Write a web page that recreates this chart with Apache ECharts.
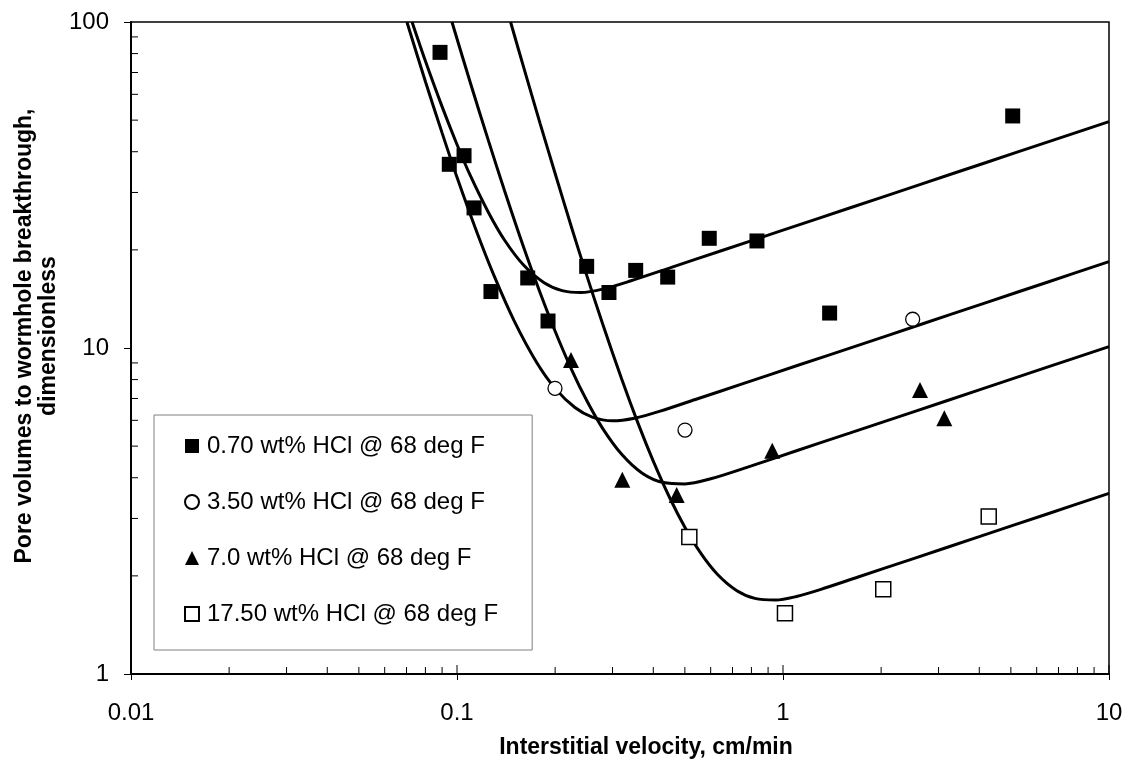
<!DOCTYPE html>
<html>
<head>
<meta charset="utf-8">
<script src="https://cdn.jsdelivr.net/npm/echarts@6/dist/echarts.min.js"></script>
<style>
  html, body { margin: 0; padding: 0; background: #fff; }
  #chart { width: 1131px; height: 765px; }
</style>
</head>
<body>
<div id="chart"></div>
<script>
// Measured points: [interstitial velocity (cm/min), pore volumes to breakthrough]
const pts070 = [[0.0887,80.7],[0.0947,36.6],[0.1051,38.9],[0.1128,26.9],[0.1271,14.9],[0.1648,16.4],[0.1902,12.1],[0.2499,17.8],[0.2925,14.8],[0.3533,17.3],[0.4429,16.5],[0.594,21.7],[0.832,21.3],[1.39,12.8],[5.065,51.5]];
const pts350 = [[0.1998,7.52],[0.5005,5.60],[2.499,12.25]];
const pts700 = [[0.2237,9.19],[0.3214,3.94],[0.472,3.54],[0.927,4.84],[2.632,7.43],[3.125,6.09]];
const pts1750 = [[0.516,2.63],[1.014,1.535],[2.03,1.82],[4.276,3.04]];

// Fitted model curves, one per acid concentration
const fit070 = [[0.0728,100],[0.08,75.9],[0.09,55.0],[0.1,42.1],[0.11,33.7],[0.125,26.0],[0.14,21.4],[0.16,17.96],[0.185,15.85],[0.21,15.0],[0.24,14.8],[0.28,15.16],[0.34,16.05],[0.45,17.61],[0.65,19.91],[1,22.98],[1.6,26.88],[2.6,31.6],[4.2,37.08],[6.5,42.89],[10,49.5]];
const fit350 = [[0.0702,100],[0.08,65.7],[0.09,45.7],[0.1,33.4],[0.115,22.7],[0.13,16.64],[0.15,12.07],[0.175,9.08],[0.2,7.52],[0.23,6.57],[0.26,6.14],[0.3,5.98],[0.35,6.09],[0.42,6.40],[0.55,7.0],[0.75,7.76],[1.1,8.82],[1.7,10.19],[2.6,11.74],[4.2,13.78],[6.5,15.94],[10,18.4]];
const fit700 = [[0.0965,100],[0.11,64.9],[0.125,43.1],[0.14,30.3],[0.16,20.4],[0.18,14.75],[0.2,11.26],[0.225,8.56],[0.25,6.90],[0.28,5.66],[0.32,4.72],[0.37,4.13],[0.43,3.865],[0.5,3.83],[0.6,3.97],[0.8,4.35],[1.1,4.84],[1.6,5.48],[2.5,6.36],[4,7.44],[6.5,8.75],[10,10.1]];
const fit1750 = [[0.146,100],[0.16,72.8],[0.18,48.7],[0.2,34.3],[0.225,23.3],[0.25,16.7],[0.28,11.82],[0.32,8.03],[0.36,5.84],[0.4,4.50],[0.45,3.46],[0.5,2.82],[0.56,2.345],[0.63,2.02],[0.72,1.805],[0.82,1.706],[0.95,1.686],[1.1,1.729],[1.3,1.815],[1.7,1.984],[2.5,2.256],[4,2.638],[6.5,3.102],[10,3.581]];

const seriesNames = ['0.70 wt% HCl @ 68 deg F','3.50 wt% HCl @ 68 deg F','7.0 wt% HCl @ 68 deg F','17.50 wt% HCl @ 68 deg F'];
const xTitle = 'Interstitial velocity, cm/min';
const yTitle = 'Pore volumes to wormhole breakthrough,\ndimensionless';

// Axis tick values
const xMajorTicks = [0.01,0.1,1,10];
const xMinorTicks = [0.02,0.03,0.04,0.05,0.06,0.07,0.08,0.09,0.2,0.3,0.4,0.5,0.6,0.7,0.8,0.9,2,3,4,5,6,7,8,9];
const yMinorTicks = [2,3,4,5,6,7,8,9,20,30,40,50,60,70,80,90];

const FONT = 'Liberation Sans, Arial, Helvetica, sans-serif';
const chart = echarts.init(document.getElementById('chart'), null, { renderer: 'canvas' });

// Short inward tick marks placed through the axis scales
function tickSeries(data, dir, len) {
  return {
    type: 'custom',
    silent: true,
    clip: false,
    z: 5,
    data: data,
    renderItem: function (params, api) {
      const p = api.coord([api.value(0), api.value(1)]);
      const shape = dir === 'x'
        ? { x1: p[0], y1: p[1], x2: p[0], y2: p[1] - len }
        : { x1: p[0], y1: p[1], x2: p[0] + len, y2: p[1] };
      return { type: 'line', shape: shape, style: { stroke: '#000', lineWidth: 1 } };
    }
  };
}

function fitLine(data) {
  return {
    type: 'line', data: data, smooth: 0.3, showSymbol: false, silent: true,
    lineStyle: { color: '#000', width: 3 }, z: 3
  };
}

chart.setOption({
  animation: false,
  backgroundColor: '#fff',
  grid: {
    left: 131, right: 22, top: 22, bottom: 91,
    containLabel: false, outerBoundsMode: 'none',
    show: true, borderColor: '#000', borderWidth: 1.5
  },
  xAxis: {
    type: 'log', logBase: 10, min: 0.01, max: 10,
    axisLine: { lineStyle: { color: '#000', width: 2 } },
    axisTick: { show: true, inside: false, length: 6, lineStyle: { color: '#000', width: 1 } },
    minorTick: { show: false },
    splitLine: { show: false },
    axisLabel: { fontFamily: FONT, fontSize: 24, color: '#000', margin: 27 }
  },
  yAxis: {
    type: 'log', logBase: 10, min: 1, max: 100,
    axisLine: { lineStyle: { color: '#000', width: 2 } },
    axisTick: { show: true, inside: false, length: 7, lineStyle: { color: '#000', width: 1 } },
    splitLine: { show: false },
    axisLabel: { fontFamily: FONT, fontSize: 24, color: '#000', margin: 22 }
  },
  graphic: [
    {
      type: 'text', x: 646, y: 748, silent: true,
      style: { text: xTitle, font: 'bold 23px ' + FONT, fill: '#000', align: 'center', verticalAlign: 'middle' }
    },
    {
      type: 'text', x: 37, y: 336, rotation: Math.PI / 2, silent: true,
      style: { text: yTitle, font: 'bold 23px ' + FONT, fill: '#000', align: 'center', verticalAlign: 'middle', lineHeight: 24 }
    }
  ],
  legend: {
    data: seriesNames,
    orient: 'vertical',
    left: 154, top: 415,
    padding: [19, 34, 24, 30],
    itemGap: 32,
    itemWidth: 14, itemHeight: 14,
    borderColor: '#808080', borderWidth: 1,
    backgroundColor: '#fff',
    textStyle: { fontFamily: FONT, fontSize: 24, color: '#000', lineHeight: 24, padding: [0, 0, 0, 3] }
  },
  series: [
    fitLine(fit070), fitLine(fit350), fitLine(fit700), fitLine(fit1750),
    tickSeries(xMinorTicks.map(v => [v, 1]), 'x', 7),
    tickSeries(xMajorTicks.map(v => [v, 1]), 'x', 9),
    tickSeries(yMinorTicks.map(v => [0.01, v]), 'y', 7),
    { name: seriesNames[0], type: 'scatter', data: pts070, symbol: 'rect', symbolSize: 15, z: 10,
      itemStyle: { color: '#000', opacity: 1 } },
    { name: seriesNames[1], type: 'scatter', data: pts350, symbol: 'circle', symbolSize: 14, z: 10,
      itemStyle: { color: '#fff', borderColor: '#000', borderWidth: 1.3, opacity: 1 } },
    { name: seriesNames[2], type: 'scatter', data: pts700, symbol: 'triangle', symbolSize: 16, z: 10,
      itemStyle: { color: '#000', opacity: 1 } },
    { name: seriesNames[3], type: 'scatter', data: pts1750, symbol: 'rect', symbolSize: 15, z: 10,
      itemStyle: { color: '#fff', borderColor: '#000', borderWidth: 1.5, opacity: 1 } }
  ]
});
</script>
</body>
</html>
